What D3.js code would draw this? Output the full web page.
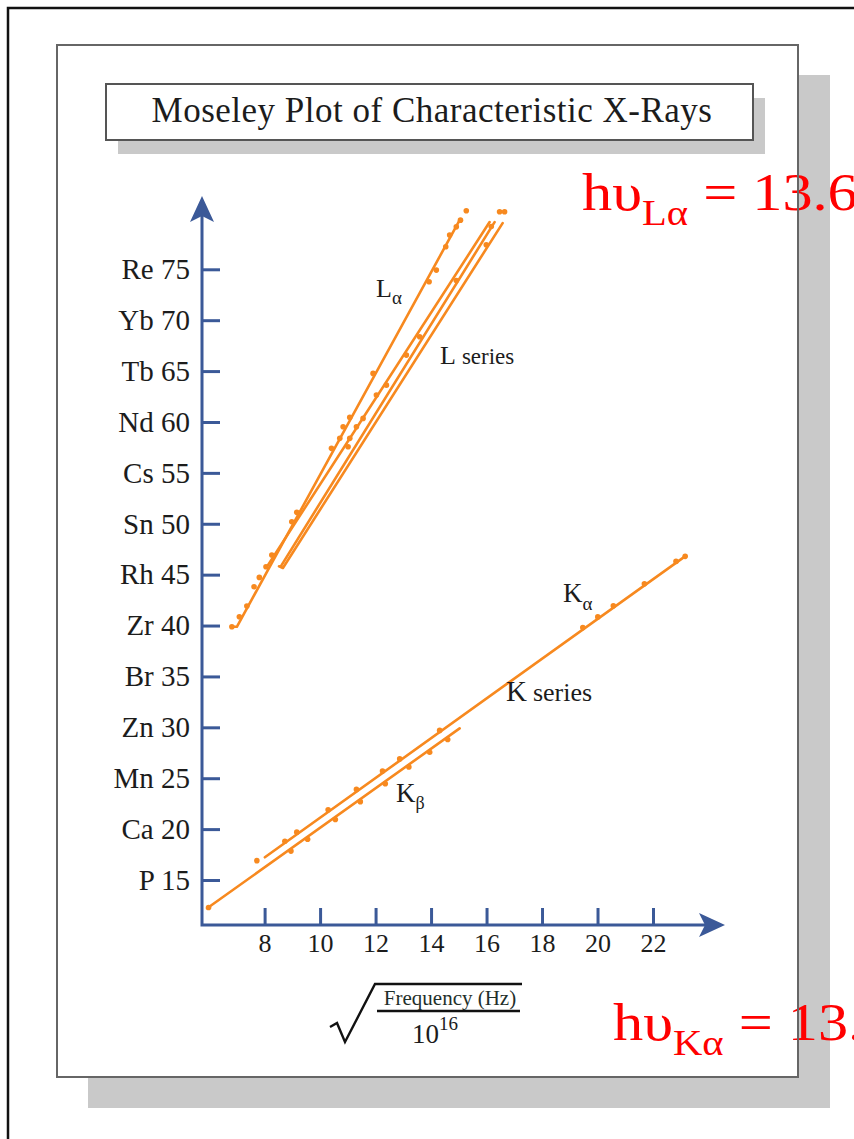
<!DOCTYPE html>
<html>
<head>
<meta charset="utf-8">
<script src="https://cdn.jsdelivr.net/npm/d3@7"></script>
<style>
  html, body { margin: 0; padding: 0; background: #fff; }
  svg { display: block; }
</style>
</head>
<body>
<svg id="chart" width="854" height="1139"></svg>
<script>
// ---- Axis ticks ----------------------------------------------------------
const elementTicks   = [15, 20, 25, 30, 35, 40, 45, 50, 55, 60, 65, 70, 75];
const elementSymbols = ["P", "Ca", "Mn", "Zn", "Br", "Zr", "Rh", "Sn", "Cs", "Nd", "Tb", "Yb", "Re"];
const freqTicks      = [8, 10, 12, 14, 16, 18, 20, 22];

// ---- K series: [sqrt(f / 1e16), Z] ---------------------------------------
const kAlphaFit = [[8.01, 17.23], [23.13, 46.75]];
const kAlphaPoints = [
  [7.72, 16.9], [8.73, 18.8], [9.16, 19.7], [10.29, 21.9], [11.31, 23.9],
  [12.25, 25.7], [12.87, 26.9], [14.31, 29.7], [19.47, 39.8], [20.01, 40.85],
  [20.57, 41.95], [21.69, 44.1], [22.83, 46.3], [23.16, 46.8]
];
const kBetaFit = [[5.93, 12.22], [15.03, 29.9]];
const kBetaPoints = [
  [5.98, 12.3], [8.95, 17.84], [9.55, 19.0], [10.55, 20.95], [11.45, 22.7],
  [12.35, 24.45], [13.2, 26.1], [13.95, 27.55], [14.6, 28.8]
];

// ---- L series: [sqrt(f / 1e16), Z] ---------------------------------------
const lAlphaFit  = [[6.83, 39.88], [7.0, 39.88], [15.03, 79.83]];
const lBeta2Fit  = [[8.12, 45.94], [16.11, 79.64]];
const lBeta1Fit  = [[8.59, 45.84], [16.29, 79.64]];
const lGammaFit  = [[8.52, 45.82], [8.66, 45.65], [16.58, 79.54]];
const lAlphaPoints = [
  [6.82, 39.88], [7.09, 40.86], [7.36, 41.92], [7.62, 43.81], [7.81, 44.73],
  [8.05, 45.78], [8.26, 46.93], [8.98, 50.2], [9.16, 51.12], [10.41, 57.41],
  [10.71, 58.39], [10.83, 59.53], [11.07, 60.45], [11.91, 64.77], [13.93, 73.77],
  [14.19, 74.92], [14.53, 77.21], [14.67, 78.36], [14.91, 79.17], [15.06, 79.83],
  [15.27, 80.75]
];
const lBetaPoints = [
  [11.01, 57.56], [11.07, 58.39], [11.31, 59.53], [11.55, 60.35], [12.03, 62.64],
  [12.39, 63.62], [13.11, 66.57], [13.59, 68.37], [14.91, 73.9], [15.99, 77.4],
  [16.17, 79.2], [16.47, 80.65], [16.65, 80.65]
];

// ---- Styling -------------------------------------------------------------
const serif = "'Liberation Serif', 'Times New Roman', serif";
const axisColor = "#3b5998";
const lineColor = "#f7891f";
const inkColor = "#1c1c1c";
const shadowColor = "#c9c9c9";

const svg = d3.select("#chart");

// scales: sqrt(frequency/1e16) across, atomic number up
const x = d3.scaleLinear().domain([8, 22]).range([264.6, 653]);
const y = d3.scaleLinear().domain([15, 75]).range([880, 269.3]);

// ---- Page frame, panel and title box -------------------------------------
svg.append("rect").attr("x", 8).attr("y", 8).attr("width", 900).attr("height", 1160)
  .attr("fill", "#fff").attr("stroke", "#111").attr("stroke-width", 2.5);

svg.append("rect").attr("x", 88).attr("y", 75).attr("width", 742).attr("height", 1033)
  .attr("fill", shadowColor);
svg.append("rect").attr("x", 57).attr("y", 45).attr("width", 741).attr("height", 1032)
  .attr("fill", "#fff");

svg.append("rect").attr("x", 118).attr("y", 98).attr("width", 647).attr("height", 56)
  .attr("fill", shadowColor);
svg.append("rect").attr("x", 106).attr("y", 84).attr("width", 647).attr("height", 56)
  .attr("fill", "#fff").attr("stroke", "#555").attr("stroke-width", 2);
svg.append("text").attr("x", 432).attr("y", 122)
  .attr("text-anchor", "middle").attr("font-family", serif).attr("font-size", 35)
  .attr("letter-spacing", 0.5)
  .attr("fill", inkColor).text("Moseley Plot of Characteristic X-Rays");

// ---- Axes ------------------------------------------------------------------
const axisX = 202, axisY = 925;
const symbolByZ = new Map(elementTicks.map((z, i) => [z, elementSymbols[i]]));

const gy = svg.append("g").attr("transform", `translate(${axisX},0)`)
  .call(d3.axisLeft(y).tickValues(elementTicks).tickSizeInner(-18).tickSizeOuter(0)
    .tickPadding(12).tickFormat(d => `${symbolByZ.get(d)} ${d}`));
gy.select(".domain").remove();
gy.selectAll(".tick line").attr("stroke", axisColor).attr("stroke-width", 3);
gy.selectAll(".tick text").attr("font-family", serif).attr("font-size", 29).attr("fill", inkColor);

const gx = svg.append("g").attr("transform", `translate(0,${axisY})`)
  .call(d3.axisBottom(x).tickValues(freqTicks).tickSizeInner(-17).tickSizeOuter(0)
    .tickPadding(9));
gx.select(".domain").remove();
gx.selectAll(".tick line").attr("stroke", axisColor).attr("stroke-width", 3);
gx.selectAll(".tick text").attr("font-family", serif).attr("font-size", 26).attr("fill", inkColor);

// axis lines with arrow heads
svg.append("path").attr("d", `M${axisX},${axisY + 1.5}V212M${axisX - 1.5},${axisY}H708`)
  .attr("stroke", axisColor).attr("stroke-width", 3).attr("fill", "none");
svg.append("path").attr("d", `M${axisX},196L${axisX + 12},222L${axisX},216L${axisX - 12},222Z`)
  .attr("fill", axisColor);
svg.append("path").attr("d", `M725,${axisY}L699,${axisY - 12}L705,${axisY}L699,${axisY + 12}Z`)
  .attr("fill", axisColor);

// ---- Series lines and measured points -------------------------------------
const line = d3.line().x(d => x(d[0])).y(d => y(d[1]));
const fits = [kAlphaFit, kBetaFit, lAlphaFit, lBeta2Fit, lBeta1Fit, lGammaFit];
svg.append("g").selectAll("path").data(fits).join("path")
  .attr("d", line).attr("fill", "none")
  .attr("stroke", lineColor).attr("stroke-width", 2.6)
  .attr("stroke-linecap", "round").attr("stroke-linejoin", "round");

const points = [].concat(kAlphaPoints, kBetaPoints, lAlphaPoints, lBetaPoints);
svg.append("g").selectAll("circle").data(points).join("circle")
  .attr("cx", d => x(d[0])).attr("cy", d => y(d[1])).attr("r", 2.8)
  .attr("fill", lineColor);

// ---- Series labels --------------------------------------------------------
function label(px, py, main, mainSize, sub, subSize, subDy, gap) {
  const t = svg.append("text").attr("x", px).attr("y", py)
    .attr("font-family", serif).attr("fill", inkColor);
  t.append("tspan").attr("font-size", mainSize).text(main);
  const s = t.append("tspan").attr("font-size", subSize).attr("dy", subDy).text(sub);
  if (gap) s.attr("dx", gap);
  return t;
}
label(376, 297, "L", 26, "α", 19, 7);
label(440, 364, "L", 26, "series", 23, 0, 6);
label(563, 602, "K", 27, "α", 19, 8);
label(506, 701, "K", 29, "series", 26, 0, 6);
label(396, 802, "K", 27, "β", 18, 7);

// ---- Horizontal axis title: sqrt(Frequency (Hz) / 10^16) -------------------
svg.append("path").attr("d", "M330,1027L337,1023L345,1042L375,984H522")
  .attr("fill", "none").attr("stroke", "#111").attr("stroke-width", 2.4)
  .attr("stroke-linejoin", "miter");
svg.append("path").attr("d", "M377,1011H520").attr("stroke", "#111").attr("stroke-width", 2.4);
svg.append("text").attr("x", 450).attr("y", 1005).attr("text-anchor", "middle")
  .attr("font-family", serif).attr("font-size", 21).attr("fill", "#1f2f2a")
  .text("Frequency (Hz)");
const pow = svg.append("text").attr("x", 435).attr("y", 1043).attr("text-anchor", "middle")
  .attr("font-family", serif).attr("fill", inkColor);
pow.append("tspan").attr("font-size", 27).text("10");
pow.append("tspan").attr("font-size", 19).attr("dy", -13).text("16");

// ---- Photon energy relations ----------------------------------------------
function formula(px, py, sub) {
  const t = svg.append("text")
    .attr("transform", `translate(${px},${py}) scale(1.16,1)`)
    .attr("font-family", serif).attr("fill", "#ff0000");
  t.append("tspan").attr("font-size", 52).text("hυ");
  t.append("tspan").attr("font-size", 35).attr("dy", 15).text(sub);
  t.append("tspan").attr("font-size", 52).attr("dy", -15).text(" = 13.6");
}
formula(582, 210, "Lα");
formula(613, 1040, "Kα");

// panel outline drawn last
svg.append("rect").attr("x", 57).attr("y", 45).attr("width", 741).attr("height", 1032)
  .attr("fill", "none").attr("stroke", "#666").attr("stroke-width", 2);
</script>
</body>
</html>
